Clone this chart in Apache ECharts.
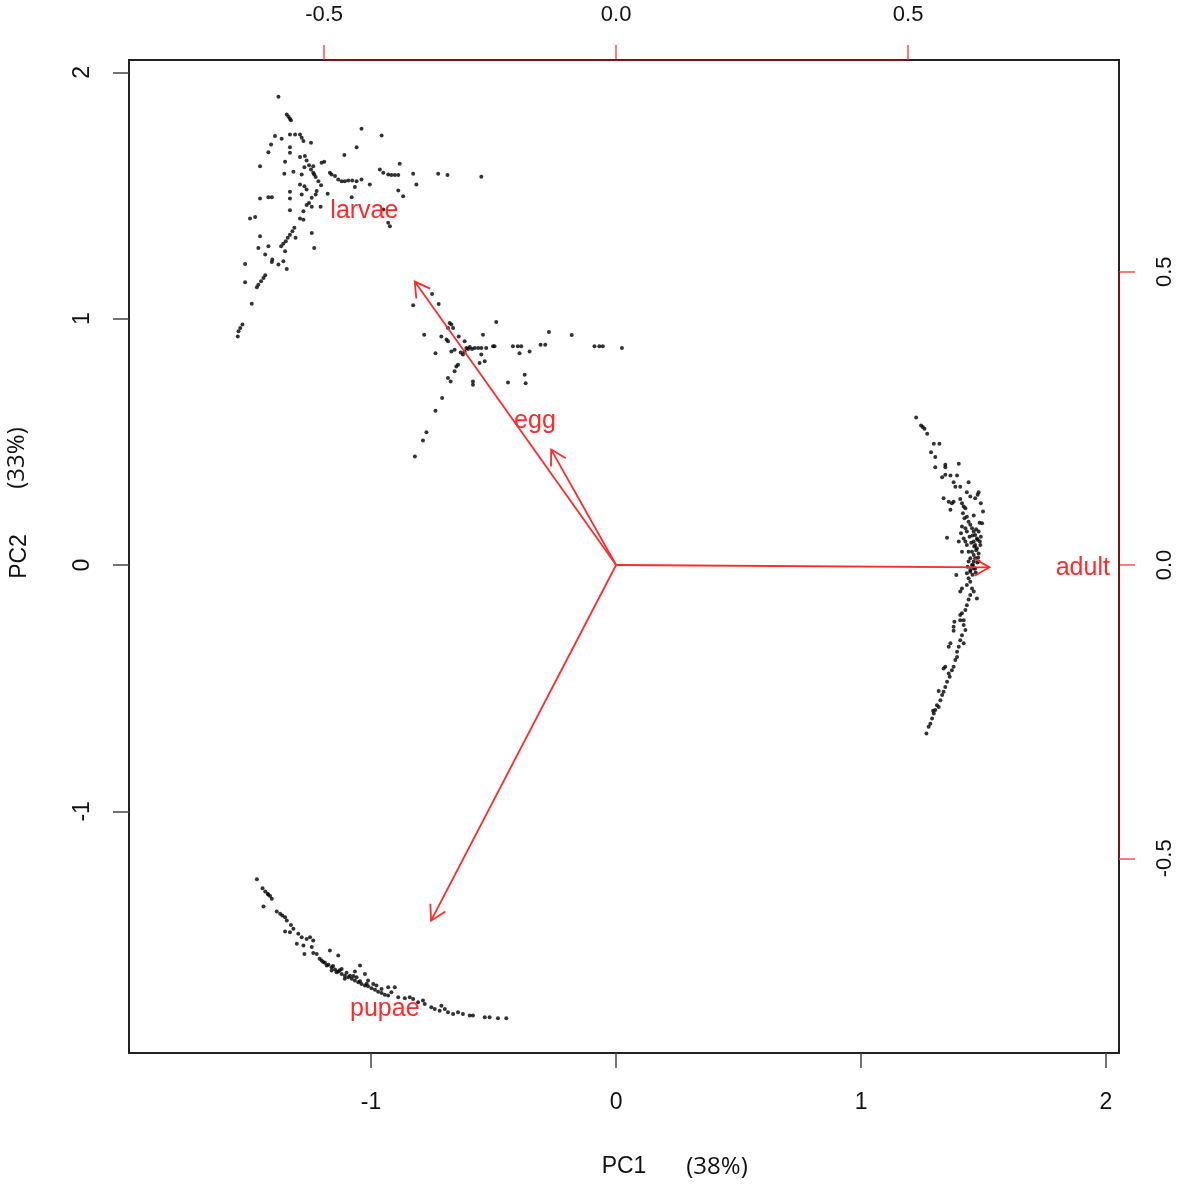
<!DOCTYPE html>
<html>
<head>
<meta charset="utf-8">
<title>PCA biplot</title>
<script src="https://cdn.jsdelivr.net/npm/echarts@6/dist/echarts.min.js"></script>
<style>
  html, body { margin: 0; padding: 0; background: #fff; }
  #biplot { width: 1181px; height: 1186px; }
</style>
</head>
<body>
<div id="biplot"></div>
<script>
  // sample scores [PC1, PC2], one list per life stage
  const larvaeScores = [
    [-1.378,1.901],[-1.344,1.829],[-1.337,1.820],[-1.331,1.812],[-1.327,1.805],[-1.039,1.771],[-0.957,1.744],[-1.392,1.741],
    [-1.365,1.730],[-1.331,1.748],[-1.310,1.748],[-1.290,1.748],[-1.283,1.734],[-1.276,1.721],[-1.245,1.714],[-1.408,1.707],
    [-1.419,1.676],[-1.331,1.696],[-1.331,1.673],[-1.059,1.696],[-1.109,1.664],[-1.270,1.660],[-1.263,1.642],[-1.253,1.623],
    [-1.245,1.606],[-1.236,1.592],[-1.226,1.575],[-1.215,1.558],[-1.204,1.542],[-1.290,1.656],[-1.272,1.615],[-1.236,1.619],
    [-1.202,1.633],[-1.191,1.637],[-1.351,1.637],[-1.317,1.596],[-1.354,1.588],[-1.283,1.585],[-1.232,1.585],[-1.453,1.619],
    [-1.168,1.592],[-1.161,1.585],[-1.147,1.579],[-1.134,1.565],[-1.120,1.558],[-1.107,1.558],[-1.093,1.561],[-1.077,1.561],
    [-1.059,1.558],[-1.039,1.565],[-1.005,1.545],[-1.066,1.534],[-0.964,1.606],[-0.950,1.592],[-0.930,1.585],[-0.917,1.583],
    [-0.903,1.583],[-0.889,1.583],[-0.883,1.629],[-0.828,1.588],[-0.815,1.545],[-0.726,1.588],[-0.688,1.583],[-0.550,1.576],
    [-0.889,1.520],[-0.869,1.497],[-0.930,1.389],[-0.923,1.375],[-0.950,1.443],[-1.290,1.545],[-1.272,1.538],[-1.263,1.524],
    [-1.222,1.518],[-1.226,1.504],[-1.242,1.491],[-1.253,1.470],[-1.263,1.461],[-1.331,1.515],[-1.331,1.488],[-1.283,1.504],
    [-1.177,1.507],[-1.419,1.493],[-1.405,1.493],[-1.453,1.488],[-1.331,1.440],[-1.276,1.436],[-1.242,1.454],[-1.206,1.454],
    [-1.079,1.493],[-1.494,1.407],[-1.473,1.413],[-1.290,1.407],[-1.276,1.402],[-1.313,1.369],[-1.321,1.355],[-1.331,1.341],
    [-1.340,1.328],[-1.348,1.314],[-1.358,1.304],[-1.367,1.294],[-1.242,1.348],[-1.308,1.328],[-1.232,1.287],[-1.453,1.335],
    [-1.460,1.287],[-1.419,1.294],[-1.351,1.274],[-1.432,1.260],[-1.403,1.240],[-1.405,1.230],[-1.378,1.220],[-1.358,1.233],
    [-1.344,1.202],[-1.514,1.222],[-1.514,1.148],[-1.432,1.176],[-1.439,1.165],[-1.449,1.152],[-1.460,1.138],[-1.466,1.127],
    [-1.487,1.061],[-1.525,0.976],[-1.534,0.962],[-1.541,0.949],[-1.544,0.928]
  ];
  const eggScores = [
    [-0.828,1.054],[-0.751,1.100],[-0.724,1.060],[-0.679,0.982],[-0.672,0.976],[-0.665,0.962],[-0.686,0.962],[-0.489,0.986],
    [-0.783,0.935],[-0.713,0.928],[-0.692,0.915],[-0.686,0.908],[-0.642,0.928],[-0.618,0.908],[-0.543,0.935],[-0.737,0.860],
    [-0.672,0.867],[-0.659,0.874],[-0.634,0.863],[-0.625,0.854],[-0.618,0.867],[-0.611,0.881],[-0.604,0.877],[-0.597,0.885],
    [-0.588,0.877],[-0.577,0.881],[-0.563,0.881],[-0.550,0.881],[-0.530,0.881],[-0.502,0.888],[-0.496,0.888],[-0.550,0.854],
    [-0.557,0.820],[-0.536,0.827],[-0.645,0.813],[-0.652,0.806],[-0.659,0.786],[-0.421,0.888],[-0.401,0.888],[-0.387,0.888],
    [-0.394,0.860],[-0.353,0.867],[-0.308,0.894],[-0.289,0.894],[-0.274,0.946],[-0.181,0.934],[-0.088,0.888],[-0.068,0.888],
    [-0.054,0.888],[0.024,0.881],[-0.686,0.759],[-0.675,0.745],[-0.584,0.745],[-0.584,0.732],[-0.441,0.741],[-0.373,0.772],
    [-0.369,0.738],[-0.710,0.678],[-0.737,0.626],[-0.774,0.539],[-0.788,0.505],[-0.821,0.440]
  ];
  const adultScores = [
    [1.225,0.599],[1.245,0.566],[1.252,0.560],[1.259,0.553],[1.270,0.533],[1.297,0.492],[1.320,0.492],[1.286,0.458],
    [1.303,0.438],[1.303,0.397],[1.344,0.407],[1.344,0.397],[1.399,0.411],[1.331,0.356],[1.344,0.366],[1.365,0.363],
    [1.392,0.363],[1.378,0.336],[1.385,0.318],[1.405,0.318],[1.439,0.336],[1.337,0.271],[1.358,0.257],[1.371,0.251],
    [1.378,0.257],[1.365,0.224],[1.432,0.295],[1.446,0.278],[1.466,0.271],[1.480,0.295],[1.476,0.285],[1.489,0.251],
    [1.498,0.217],[1.405,0.268],[1.412,0.251],[1.419,0.237],[1.426,0.230],[1.416,0.210],[1.422,0.190],[1.432,0.196],
    [1.439,0.176],[1.460,0.201],[1.494,0.169],[1.484,0.172],[1.446,0.163],[1.453,0.149],[1.460,0.136],[1.466,0.122],
    [1.473,0.108],[1.460,0.095],[1.466,0.081],[1.473,0.068],[1.453,0.054],[1.460,0.041],[1.466,0.027],[1.460,0.014],
    [1.457,0.000],[1.466,-0.014],[1.476,0.102],[1.480,0.136],[1.487,0.081],[1.489,0.115],[1.443,0.115],[1.432,0.136],
    [1.426,0.149],[1.412,0.156],[1.408,0.129],[1.419,0.108],[1.426,0.095],[1.432,0.081],[1.399,0.095],[1.412,0.054],
    [1.439,0.054],[1.446,0.027],[1.480,0.047],[1.480,0.014],[1.351,0.111],[1.435,-0.007],[1.446,-0.027],
    [1.470,0.060],[1.478,0.030],[1.462,0.075],[1.485,0.095],[1.455,0.120],[1.470,0.145],[1.450,0.090],[1.475,0.010],
    [1.468,-0.030],[1.455,-0.040],
    [1.439,0.014],[1.453,0.000],[1.446,-0.020],[1.460,-0.014],[1.432,-0.034],[1.389,-0.041],[1.439,-0.054],[1.446,-0.068],
    [1.432,-0.081],[1.453,-0.095],[1.460,-0.108],[1.412,-0.095],[1.405,-0.108],[1.446,-0.122],[1.439,-0.140],[1.473,-0.136],
    [1.432,-0.163],[1.426,-0.183],[1.412,-0.196],[1.405,-0.203],[1.381,-0.230],[1.378,-0.251],[1.378,-0.267],[1.405,-0.224],
    [1.419,-0.224],[1.419,-0.244],[1.426,-0.264],[1.412,-0.285],[1.405,-0.305],[1.419,-0.318],[1.399,-0.332],[1.392,-0.352],
    [1.365,-0.318],[1.358,-0.332],[1.392,-0.373],[1.385,-0.386],[1.378,-0.413],[1.371,-0.427],[1.344,-0.413],[1.337,-0.420],
    [1.358,-0.440],[1.362,-0.454],[1.351,-0.474],[1.344,-0.495],[1.331,-0.528],[1.317,-0.511],[1.337,-0.515],[1.324,-0.549],
    [1.310,-0.569],[1.303,-0.589],[1.297,-0.603],[1.290,-0.623],[1.283,-0.644],[1.276,-0.657],[1.267,-0.684],[1.317,-0.576],
    [1.294,-0.592]
  ];
  const pupaeScores = [
    [-1.466,-1.276],[-1.443,-1.312],[-1.432,-1.325],[-1.422,-1.335],[-1.412,-1.344],[-1.405,-1.355],[-1.419,-1.339],[-1.439,-1.386],
    [-1.385,-1.407],[-1.371,-1.416],[-1.362,-1.423],[-1.351,-1.430],[-1.344,-1.443],[-1.327,-1.461],[-1.317,-1.477],[-1.351,-1.488],
    [-1.331,-1.491],[-1.297,-1.497],[-1.283,-1.511],[-1.263,-1.518],[-1.249,-1.511],[-1.236,-1.524],[-1.303,-1.538],[-1.276,-1.545],
    [-1.242,-1.551],[-1.272,-1.579],[-1.236,-1.575],[-1.222,-1.579],[-1.168,-1.565],[-1.134,-1.585],[-1.202,-1.606],[-1.188,-1.615],
    [-1.174,-1.623],[-1.161,-1.633],[-1.147,-1.642],[-1.134,-1.650],[-1.120,-1.660],[-1.107,-1.667],[-1.093,-1.673],[-1.079,-1.680],
    [-1.066,-1.687],[-1.052,-1.694],[-1.039,-1.701],[-1.025,-1.707],[-1.012,-1.710],[-0.998,-1.718],[-0.984,-1.724],[-0.971,-1.732],
    [-0.957,-1.737],[-0.944,-1.745],[-1.181,-1.626],[-1.161,-1.646],[-1.141,-1.653],[-1.120,-1.640],[-1.107,-1.680],[-1.086,-1.667],
    [-1.059,-1.673],[-1.045,-1.626],[-1.066,-1.650],[-1.025,-1.660],[-1.012,-1.687],[-0.991,-1.701],[-0.978,-1.707],[-0.957,-1.721],
    [-0.930,-1.714],[-0.903,-1.714],[-0.917,-1.734],[-0.930,-1.748],[-0.889,-1.755],[-0.862,-1.759],[-0.842,-1.755],[-0.828,-1.762],
    [-0.808,-1.775],[-0.781,-1.782],[-0.754,-1.795],[-0.740,-1.802],[-0.720,-1.809],[-0.699,-1.802],[-0.686,-1.816],[-0.665,-1.823],
    [-0.645,-1.816],[-0.625,-1.823],[-0.597,-1.829],[-0.584,-1.829],[-0.536,-1.836],[-0.516,-1.836],[-0.482,-1.840],[-0.448,-1.840],
    [-0.788,-1.768],[-0.713,-1.789],[-1.195,-1.612],[-1.155,-1.628],[-1.128,-1.645],[-1.100,-1.655],[-1.072,-1.668],[-1.045,-1.690],
    [-1.018,-1.700],[-1.210,-1.598]
  ];

  // variable loadings (label positions, top/right scale); R draws the arrows at 0.8 of these
  const stageNames = ['egg', 'larvae', 'adult', 'pupae'];
  const loadings = [[-0.139, 0.246], [-0.431, 0.604], [0.799, -0.005], [-0.396, -0.758]];

  // axis ranges and tick labels
  const pc1Range = [-1.988, 2.053];
  const pc2Range = [-1.981, 2.050];
  const loadXRange = [-0.834, 0.861];
  const loadYRange = [-0.832, 0.861];
  const pc1Ticks = [-1, 0, 1, 2];
  const pc2Ticks = [-1, 0, 1, 2];
  const loadTicks = [-0.5, 0, 0.5];

  const FONT = '"Liberation Sans", Arial, Helvetica, sans-serif';
  const RED = '#ff2a2a';

  const chart = echarts.init(document.getElementById('biplot'));

  function drawArrow(params, api) {
    const v = [api.value(0), api.value(1)];
    const o = api.coord([0, 0]);
    const t = api.coord([v[0] * 0.8, v[1] * 0.8]);
    const l = api.coord(v);
    const ang = Math.atan2(t[1] - o[1], t[0] - o[0]);
    const head = 17, spread = Math.PI / 6;
    const b1 = [t[0] - head * Math.cos(ang - spread), t[1] - head * Math.sin(ang - spread)];
    const b2 = [t[0] - head * Math.cos(ang + spread), t[1] - head * Math.sin(ang + spread)];
    return {
      type: 'group',
      children: [
        { type: 'line', shape: { x1: o[0], y1: o[1], x2: t[0], y2: t[1] }, style: { stroke: RED, lineWidth: 1.8 } },
        { type: 'polyline', shape: { points: [b1, t, b2] }, style: { stroke: RED, lineWidth: 1.8, fill: null } },
        {
          type: 'text', x: l[0], y: l[1],
          style: { text: stageNames[params.dataIndex], fill: RED, fontSize: 25, fontFamily: FONT, align: 'center', verticalAlign: 'middle' }
        }
      ]
    };
  }

  const dot = { type: 'scatter', symbol: 'circle', symbolSize: 4, itemStyle: { color: '#000' }, silent: true, xAxisIndex: 0, yAxisIndex: 0 };

  const option = {
    animation: false,
    backgroundColor: '#fff',
    grid: { left: 127, right: 62, top: 60, bottom: 133, show: true, borderColor: '#222', borderWidth: 2 },
    xAxis: [
      {
        type: 'value', position: 'bottom', min: pc1Range[0], max: pc1Range[1],
        axisLine: { show: false, onZero: false }, splitLine: { show: false },
        axisTick: { customValues: pc1Ticks, length: 15, lineStyle: { color: '#444', width: 1.5 } },
        axisLabel: { customValues: pc1Ticks, margin: 38, fontSize: 23, color: '#111', fontFamily: FONT },
        name: 'PC1', nameLocation: 'middle', nameGap: 102,
        nameTextStyle: { fontSize: 23, color: '#111', fontFamily: FONT }
      },
      {
        type: 'value', position: 'top', min: loadXRange[0], max: loadXRange[1],
        axisLine: { show: false, onZero: false }, splitLine: { show: false },
        axisTick: { customValues: loadTicks, length: 15, lineStyle: { color: '#ff5050', width: 1.5 } },
        axisLabel: { customValues: loadTicks, margin: 34, fontSize: 22, color: '#111', fontFamily: FONT,
          formatter: v => v.toFixed(1) }
      }
    ],
    yAxis: [
      {
        type: 'value', position: 'left', min: pc2Range[0], max: pc2Range[1],
        axisLine: { show: false, onZero: false }, splitLine: { show: false },
        axisTick: { customValues: pc2Ticks, length: 16, lineStyle: { color: '#444', width: 1.5 } },
        axisLabel: { customValues: pc2Ticks, rotate: 90, margin: 35, fontSize: 23, color: '#111', fontFamily: FONT },
        name: 'PC2', nameLocation: 'middle', nameGap: 98,
        nameTextStyle: { fontSize: 23, color: '#111', fontFamily: FONT }
      },
      {
        type: 'value', position: 'right', min: loadYRange[0], max: loadYRange[1],
        axisLine: { show: false, onZero: false }, splitLine: { show: false },
        axisTick: { customValues: loadTicks, length: 16, lineStyle: { color: '#ff5050', width: 1.5 } },
        axisLabel: { customValues: loadTicks, rotate: 90, margin: 35, fontSize: 22, color: '#111', fontFamily: FONT,
          formatter: v => v.toFixed(1) }
      }
    ],
    graphic: [
      { type: 'text', x: 717, y: 1167, style: { text: '(38%)', fontSize: 24, fontFamily: '"Open Sans", sans-serif', fill: '#111', align: 'center', verticalAlign: 'middle' } },
      { type: 'text', x: 17, y: 458, rotation: Math.PI / 2, style: { text: '(33%)', fontSize: 24, fontFamily: '"Open Sans", sans-serif', fill: '#111', align: 'center', verticalAlign: 'middle' } }
    ],
    series: [
      Object.assign({ name: 'larvae', data: larvaeScores }, dot),
      Object.assign({ name: 'egg', data: eggScores }, dot),
      Object.assign({ name: 'adult', data: adultScores }, dot),
      Object.assign({ name: 'pupae', data: pupaeScores }, dot),
      {
        // red axis lines of the loading scale, spanning first to last tick as R draws them
        type: 'line', xAxisIndex: 1, yAxisIndex: 1, clip: false, silent: true, symbol: 'none',
        lineStyle: { color: '#7a1414', width: 2 },
        data: [[loadTicks[0], loadYRange[1]], [loadTicks[loadTicks.length - 1], loadYRange[1]]]
      },
      {
        type: 'line', xAxisIndex: 1, yAxisIndex: 1, clip: false, silent: true, symbol: 'none',
        lineStyle: { color: '#7a1414', width: 2 },
        data: [[loadXRange[1], loadTicks[0]], [loadXRange[1], loadTicks[loadTicks.length - 1]]]
      },
      {
        type: 'custom', xAxisIndex: 1, yAxisIndex: 1, z: 5, silent: true,
        renderItem: drawArrow,
        data: loadings
      }
    ]
  };

  chart.setOption(option);
  window.addEventListener('resize', function () {
    chart.resize();
  });
</script>
</body>
</html>
